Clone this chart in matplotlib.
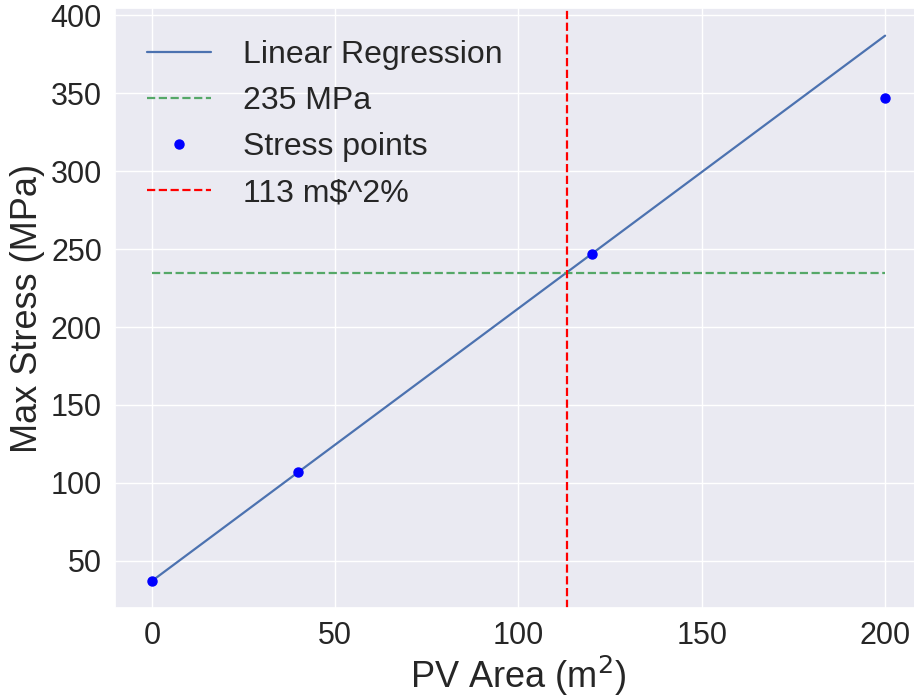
import numpy as np
import seaborn as sns
import matplotlib
matplotlib.use("Agg")
import matplotlib.pyplot as plt
from matplotlib.ticker import MultipleLocator

# PV area (m^2) vs max stress (MPa)
area = [0, 40, 120, 200]
stress = [37, 107, 247, 347]
limit_stress = 235

sns.set_theme(style="darkgrid")
plt.rcParams['font.family'] = ['Liberation Sans', 'DejaVu Sans']

# fit on the first three points
coef = np.polyfit(area[:3], stress[:3], 1)
x_fit = np.array([area[0], area[-1]])
y_fit = np.polyval(coef, x_fit)
area_limit = (limit_stress - coef[1]) / coef[0]

fig = plt.figure(figsize=(9.14, 7), dpi=100)
ax = fig.add_axes([0.126, 0.131, 0.8825, 0.857])

ax.plot(x_fit, y_fit, color="#4C72B0", lw=1.6, label="Linear Regression")
ax.hlines(limit_stress, area[0], area[-1], colors="#55A868", linestyles="--", lw=1.6,
          label=f"{limit_stress} MPa")
ax.plot(area, stress, "o", color="blue", ms=6.5, label="Stress points")
ax.axvline(area_limit, color="red", ls="--", lw=1.6, label=f"{area_limit:.0f} m$^2%")

ax.xaxis.set_major_locator(MultipleLocator(50))
ax.set_xlabel("PV Area (m$^2$)", fontsize=26, labelpad=2)
ax.set_ylabel("Max Stress (MPa)", fontsize=26)
ax.tick_params(labelsize=22)
ax.legend(fontsize=23, frameon=False, loc="upper left", handlelength=2.0,
          handletextpad=1.0, borderaxespad=0.6)

plt.savefig("out.png", dpi=100)
